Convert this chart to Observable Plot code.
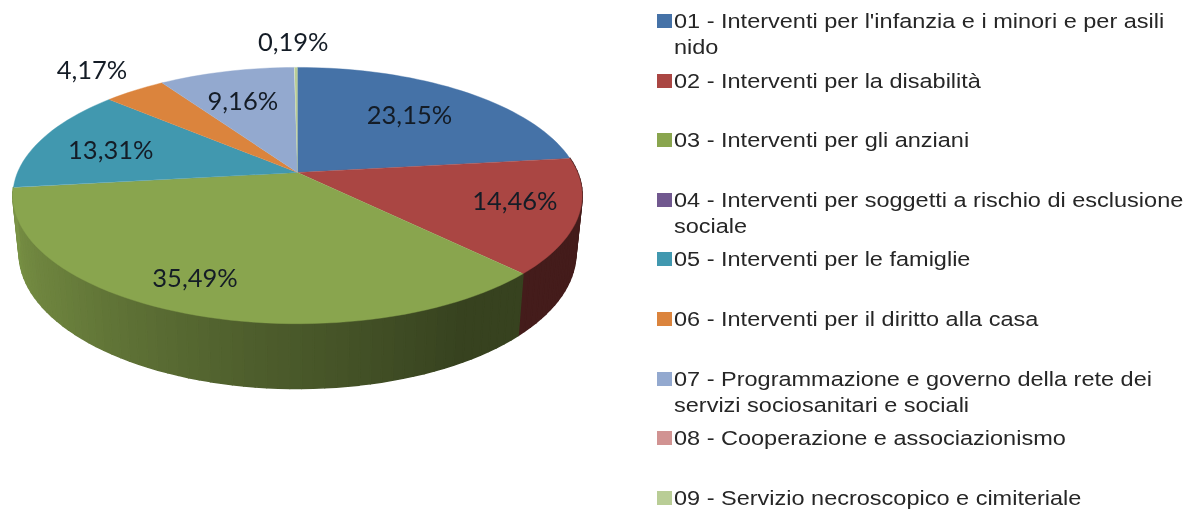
<!DOCTYPE html>
<html lang="it">
<head>
<meta charset="utf-8">
<script src="https://cdn.jsdelivr.net/npm/d3@7"></script>
<script src="https://cdn.jsdelivr.net/npm/@observablehq/plot@0.6"></script>
<style>
html,body{margin:0;padding:0;background:#fff;overflow:hidden}
#wrap{position:relative;width:1183px;height:510px;filter:blur(.5px)}
.row{position:absolute;left:674px;font:20.5px/26px "Liberation Sans",Arial,sans-serif;color:#262626;white-space:pre;transform:scaleX(1.146);transform-origin:0 0}
.key{position:absolute;left:657px;width:15px;height:14px}
</style>
</head>
<body>
<div id="wrap"></div>
<script>
const categories = [
  "01 - Interventi per l'infanzia e i minori e per asili\nnido",
  "02 - Interventi per la disabilità",
  "03 - Interventi per gli anziani",
  "04 - Interventi per soggetti a rischio di esclusione\nsociale",
  "05 - Interventi per le famiglie",
  "06 - Interventi per il diritto alla casa",
  "07 - Programmazione e governo della rete dei\nservizi sociosanitari e sociali",
  "08 - Cooperazione e associazionismo",
  "09 - Servizio necroscopico e cimiteriale"
];
const values = [23.15, 14.46, 35.49, 0.03, 13.31, 4.17, 9.16, 0.04, 0.19];
const valueLabels = ["23,15%", "14,46%", "35,49%", "", "13,31%", "4,17%", "9,16%", "", "0,19%"];
const colors = ["#4572A7", "#AA4643", "#89A54E", "#71588F", "#4198AF", "#DB843D", "#93A9CF", "#D19392", "#B9CD96"];
// label placement relative to each slice: radius fraction and turn from the mid-angle (degrees)
const labelRadius = [0.665, 0.778, 0.806, 0, 0.713, 1.295, 0.675, 0, 1.29];
const labelTurn = [-0.7, -2.6, 3.9, 0, -2.3, -0.4, -1.5, 0, -0.5];
// wall shading by clock angle
const shadeAngles = [90, 135, 150, 190, 230, 270];
const shadeLevels = [0.40, 0.40, 0.40, 0.58, 0.78, 0.92];

// perspective view of the tilted disc
const tilt = 0.18, drop = 0.45, shrink = 0.022;
function project(angle, radius, level) {
  const a = angle * Math.PI / 180;
  const X = radius * Math.sin(a), Y = -radius * Math.cos(a);
  const w = 1 - tilt * Y, s = 1 - shrink * level;
  return {x: s * X / w, y: s * Y / w + drop * level / w};
}

const total = d3.sum(values);
let run = 0;
const slices = values.map((v, i) => {
  const start = run / total * 360;
  run += v;
  return {i, v, start, end: run / total * 360, mid: (start + run / total * 360) / 2};
});
const shade = d3.scaleLinear().domain(shadeAngles).range(shadeLevels).clamp(true);
const STEP = 2;

const tops = [], walls = [];
for (const s of slices) {
  if (s.v < 0.1) continue;
  const n = Math.max(1, Math.ceil((s.end - s.start) / STEP));
  const angles = d3.range(n + 1).map(k => s.start + (s.end - s.start) * k / n);
  tops.push({id: "t" + s.i, color: colors[s.i], ...project(0, 0, 0)});
  for (const a of angles) tops.push({id: "t" + s.i, color: colors[s.i], ...project(a, 1, 0)});
  for (let k = 0; k < n; k++) {
    const a0 = angles[k], a1 = angles[k + 1], m = (a0 + a1) / 2;
    if (m < 84 || m > 263.5) continue;
    const c = d3.rgb(colors[s.i]);
    const f = shade(m);
    const col = d3.rgb(c.r * f, c.g * f, c.b * f).formatHex();
    const id = "w" + s.i + "_" + k;
    walls.push({id, color: col, ...project(a0, 1, 0)}, {id, color: col, ...project(a1, 1, 0)},
               {id, color: col, ...project(a1, 1, 1)}, {id, color: col, ...project(a0, 1, 1)},
               {id, color: col, ...project(a0, 1, 0)});
  }
}
const labels = slices.filter(s => valueLabels[s.i]).map(s => ({
  text: valueLabels[s.i],
  ...project(s.mid + labelTurn[s.i], labelRadius[s.i], 0)
}));

const chart = Plot.plot({
  width: 1183, height: 510, margin: 0,
  x: {domain: [-1, 1], range: [17, 577], axis: null},
  y: {domain: [-1, 1], range: [48, 296], axis: null},
  color: {type: "identity"},
  style: {background: "transparent"},
  marks: [
    Plot.line(walls, {x: "x", y: "y", z: "id", fill: "color", stroke: "color", strokeWidth: 1.6, strokeLinejoin: "round", curve: "linear"}),
    Plot.line(tops, {x: "x", y: "y", z: "id", fill: "color", stroke: "color", strokeWidth: 0.4, curve: "linear"}),
    Plot.text(labels, {x: "x", y: "y", text: "text", fontSize: 25.5, fontFamily: "Lato, 'Open Sans', sans-serif", fill: "#141c26", lineAnchor: "middle"})
  ]
});
const wrap = document.getElementById("wrap");
wrap.appendChild(chart);
categories.forEach((c, i) => {
  const top = 8 + i * 59.6;
  const row = document.createElement("div");
  row.className = "row";
  row.style.top = top + "px";
  row.textContent = c;
  const key = document.createElement("span");
  key.className = "key";
  key.style.top = (top + 6) + "px";
  key.style.background = colors[i];
  wrap.appendChild(key);
  wrap.appendChild(row);
});
</script>
</body>
</html>
